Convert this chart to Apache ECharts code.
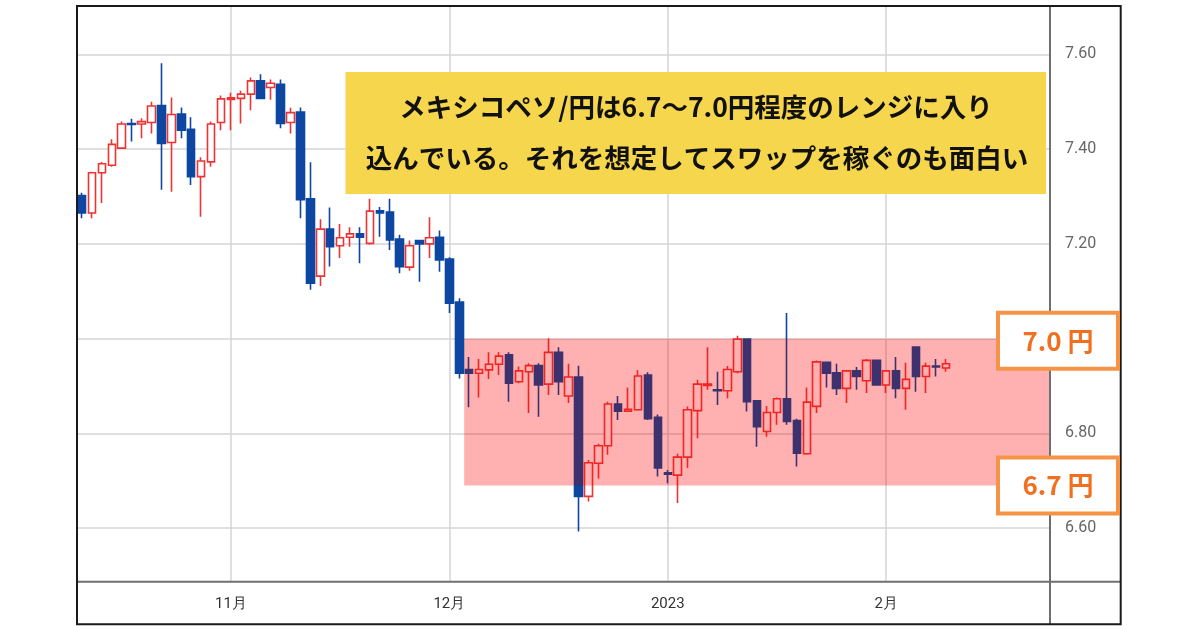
<!DOCTYPE html>
<html>
<head>
<meta charset="utf-8">
<script src="https://cdn.jsdelivr.net/npm/echarts@6/dist/echarts.min.js"></script>
<style>
html,body{margin:0;padding:0;background:#fff;}
#chart{width:1200px;height:630px;}
</style>
</head>
<body>
<div id="chart"></div>
<script>
// ---- data ----
const dates = [
 '2022-10-11','2022-10-12','2022-10-13','2022-10-14','2022-10-17','2022-10-18','2022-10-19','2022-10-20','2022-10-21','2022-10-24','2022-10-25','2022-10-26','2022-10-27','2022-10-28','2022-10-31',
 '2022-11-01','2022-11-02','2022-11-03','2022-11-04','2022-11-07','2022-11-08','2022-11-09','2022-11-10','2022-11-11','2022-11-14','2022-11-15','2022-11-16','2022-11-17','2022-11-18','2022-11-21','2022-11-22','2022-11-23','2022-11-24','2022-11-25','2022-11-28','2022-11-29','2022-11-30',
 '2022-12-01','2022-12-02','2022-12-05','2022-12-06','2022-12-07','2022-12-08','2022-12-09','2022-12-12','2022-12-13','2022-12-14','2022-12-15','2022-12-16','2022-12-19','2022-12-20','2022-12-21','2022-12-22','2022-12-23','2022-12-26','2022-12-27','2022-12-28','2022-12-29','2022-12-30',
 '2023-01-02','2023-01-03','2023-01-04','2023-01-05','2023-01-06','2023-01-09','2023-01-10','2023-01-11','2023-01-12','2023-01-13','2023-01-16','2023-01-17','2023-01-18','2023-01-19','2023-01-20','2023-01-23','2023-01-24','2023-01-25','2023-01-26','2023-01-27','2023-01-30','2023-01-31',
 '2023-02-01','2023-02-02','2023-02-03','2023-02-06','2023-02-07','2023-02-08','2023-02-09'
];
const openP = [
 7.302,7.265,7.350,7.366,7.402,7.454,7.453,7.456,7.492,7.414,
 7.474,7.442,7.342,7.373,7.456,7.505,7.507,7.516,7.544,7.530,
 7.537,7.456,7.478,7.295,7.132,7.231,7.196,7.214,7.221,7.201,
 7.270,7.267,7.210,7.151,7.207,7.200,7.214,7.168,7.077,6.935,
 6.927,6.934,6.946,6.966,6.909,6.930,6.943,6.904,6.971,6.879,
 6.919,6.667,6.737,6.774,6.862,6.847,6.850,6.923,6.834,6.717,
 6.712,6.750,6.848,6.901,6.892,6.890,6.930,6.999,6.869,6.804,
 6.844,6.873,6.827,6.757,6.857,6.950,6.928,6.895,6.932,6.911,
 6.954,6.902,6.932,6.895,6.982,6.920,6.942,6.938
];
const closeP = [
 7.265,7.350,7.369,7.410,7.453,7.452,7.458,7.491,7.412,7.473,
 7.440,7.342,7.375,7.453,7.506,7.508,7.516,7.544,7.507,7.539,
 7.454,7.477,7.293,7.117,7.231,7.194,7.213,7.221,7.214,7.269,
 7.265,7.208,7.152,7.196,7.200,7.213,7.166,7.075,6.927,6.927,
 6.935,6.946,6.963,6.906,6.932,6.943,6.902,6.971,6.909,6.919,
 6.667,6.738,6.774,6.862,6.847,6.851,6.921,6.831,6.727,6.714,
 6.750,6.850,6.904,6.904,6.890,6.935,6.999,6.867,6.814,6.844,
 6.873,6.825,6.758,6.866,6.951,6.927,6.895,6.932,6.920,6.954,
 6.902,6.932,6.895,6.914,6.920,6.942,6.940,6.947
];
const lowP = [
 7.254,7.254,7.286,7.363,7.400,7.416,7.423,7.433,7.314,7.310,
 7.423,7.324,7.257,7.363,7.440,7.440,7.454,7.482,7.507,7.504,
 7.444,7.433,7.254,7.103,7.111,7.152,7.170,7.194,7.159,7.198,
 7.215,7.187,7.138,7.143,7.120,7.170,7.141,7.054,6.916,6.855,
 6.876,6.915,6.923,6.867,6.906,6.843,6.835,6.881,6.881,6.864,
 6.593,6.656,6.705,6.755,6.828,6.846,6.848,6.828,6.709,6.695,
 6.653,6.727,6.790,6.892,6.860,6.874,6.927,6.846,6.772,6.793,
 6.818,6.818,6.730,6.755,6.843,6.897,6.881,6.864,6.892,6.885,
 6.902,6.885,6.874,6.850,6.888,6.885,6.920,6.930
];
const highP = [
 7.308,7.352,7.373,7.421,7.458,7.464,7.465,7.500,7.581,7.509,
 7.488,7.467,7.383,7.458,7.513,7.519,7.523,7.551,7.558,7.547,
 7.547,7.487,7.488,7.372,7.252,7.277,7.242,7.235,7.235,7.295,
 7.278,7.295,7.219,7.207,7.208,7.256,7.228,7.172,7.085,6.961,
 6.957,6.971,6.971,6.971,6.941,6.948,6.948,7.001,6.982,6.947,
 6.943,6.744,6.778,6.867,6.879,6.897,6.933,6.929,6.840,6.723,
 6.757,6.857,6.913,6.982,6.930,6.942,7.006,7.000,6.870,6.858,
 6.876,7.054,6.831,6.897,6.954,6.951,6.947,6.933,6.940,6.957,
 6.955,6.934,6.961,6.949,6.983,6.949,6.957,6.957
];
const tickDates = ['2022-11-01','2022-12-01','2023-01-02','2023-02-01'];
const tickLabels = ['11月','12月','2023','2月'];
const yTicks = [6.6, 6.8, 7.0, 7.2, 7.4, 7.6];
const rangeHigh = 7.0;
const rangeLow = 6.69;
const rangeStart = '2022-12-05';
const rangeLabels = ['7.0 円', '6.7 円'];
const noteLines = ['メキシコペソ/円は6.7～7.0円程度のレンジに入り', '込んでいる。それを想定してスワップを稼ぐのも面白い'];

// ---- layout ----
const W = 1200, H = 630;
const gLeft = 77, gRight = 1050, gTop = 6, gBottom = 581.7;
const frameRight = 1120.7, frameBottom = 624.3;
const padCount = 10;
const BLUE = '#0d47a1', RED = '#ee3333';

const cats = dates.concat(Array.from({length: padCount}, (_, i) => 'pad' + i));
const ohlc = dates.map((d, i) => [openP[i], closeP[i], lowP[i], highP[i]]);
const tickIdx = tickDates.map(d => dates.indexOf(d));
const isTick = (idx) => tickIdx.indexOf(idx) >= 0;

const chart = echarts.init(document.getElementById('chart'), null, {renderer: 'canvas'});
const option = {
  animation: false,
  backgroundColor: '#fff',
  grid: {left: gLeft, right: W - gRight, top: gTop, bottom: H - gBottom, containLabel: false},
  xAxis: {
    type: 'category',
    data: cats,
    boundaryGap: true,
    axisLine: {show: false},
    axisTick: {show: false, alignWithLabel: true, interval: isTick},
    axisLabel: {
      interval: isTick,
      formatter: (v) => { const k = tickDates.indexOf(v); return k >= 0 ? tickLabels[k] : ''; },
      color: '#333', fontSize: 15, margin: 15, fontFamily: 'Roboto'
    },
    splitLine: {show: true, interval: isTick, alignWithLabel: true, lineStyle: {color: '#d4d4d4', width: 1.5}}
  },
  yAxis: {
    type: 'value',
    position: 'right',
    min: 6.487, max: 7.702,
    scale: true,
    axisLine: {show: false},
    axisTick: {show: false, customValues: yTicks},
    axisLabel: {customValues: yTicks, formatter: (v) => v.toFixed(2), color: '#666', fontSize: 16, margin: 15, fontFamily: 'Roboto'},
    splitLine: {show: true, lineStyle: {color: '#d4d4d4', width: 1.5}}
  },
  series: [{
    type: 'candlestick',
    data: ohlc,
    barWidth: 8,
    itemStyle: {color: '#ffffff', color0: BLUE, borderColor: RED, borderColor0: BLUE, borderWidth: 1.6}
  }]
};
chart.setOption(option);

// overlay annotations
const pA = chart.convertToPixel({gridIndex: 0}, [rangeStart, rangeHigh]);
const pB = chart.convertToPixel({gridIndex: 0}, [rangeStart, rangeLow]);
const pS = chart.convertToPixel({gridIndex: 0}, [dates[dates.indexOf(rangeStart) - 1], rangeHigh]);
const band = pA[0] - pS[0];
const x0 = pA[0] - band / 2;
const boxW = 120, boxH = 56, boxX = 998;

function labelBox(yc, txt) {
  return {
    type: 'group', z: 20,
    children: [
      {type: 'rect', z: 20, shape: {x: boxX, y: yc - boxH / 2, width: boxW, height: boxH},
        style: {fill: '#ffffff', stroke: '#f59447', lineWidth: 4}},
      {type: 'text', z: 21, style: {text: txt, x: boxX + boxW / 2, y: yc, align: 'center', verticalAlign: 'middle',
        textAlign: 'center', textVerticalAlign: 'middle',
        fontSize: 26, fontWeight: 'bold', fontFamily: 'Noto Sans CJK JP', fill: '#f07020'}}
    ]
  };
}

chart.setOption({
  graphic: [
    {type: 'rect', z: 10, silent: true, shape: {x: x0, y: pA[1], width: gRight - x0, height: pB[1] - pA[1]},
      style: {fill: 'rgba(255,0,0,0.2)'}},
    {type: 'rect', z: 11, silent: true, shape: {x: x0, y: pA[1], width: gRight - x0, height: pB[1] - pA[1]},
      style: {fill: '#ffdcdc', blend: 'multiply'}},
    {type: 'rect', z: 15, shape: {x: 345.5, y: 72, width: 700.5, height: 122}, style: {fill: '#f5d64c'}},
    {type: 'text', z: 16, style: {text: noteLines[0], x: 696, y: 107, align: 'center', verticalAlign: 'middle',
      textAlign: 'center', textVerticalAlign: 'middle', fontSize: 26.5, fontWeight: 'bold', fontFamily: 'Noto Sans CJK JP', fill: '#111'}},
    {type: 'text', z: 16, style: {text: noteLines[1], x: 697, y: 158, align: 'center', verticalAlign: 'middle',
      textAlign: 'center', textVerticalAlign: 'middle', fontSize: 26.5, fontWeight: 'bold', fontFamily: 'Noto Sans CJK JP', fill: '#111'}},
    {type: 'line', z: 18, shape: {x1: gRight, y1: gTop, x2: gRight, y2: frameBottom}, style: {stroke: '#6f6f6f', lineWidth: 2}},
    {type: 'line', z: 18, shape: {x1: gLeft, y1: gBottom, x2: frameRight, y2: gBottom}, style: {stroke: '#6f6f6f', lineWidth: 2}},
    {type: 'rect', z: 19, shape: {x: gLeft, y: gTop, width: frameRight - gLeft, height: frameBottom - gTop},
      style: {fill: 'none', stroke: '#1a1a1a', lineWidth: 2}},
    labelBox(pA[1] + 2, rangeLabels[0]),
    labelBox(pB[1], rangeLabels[1])
  ]
});
</script>
</body>
</html>
